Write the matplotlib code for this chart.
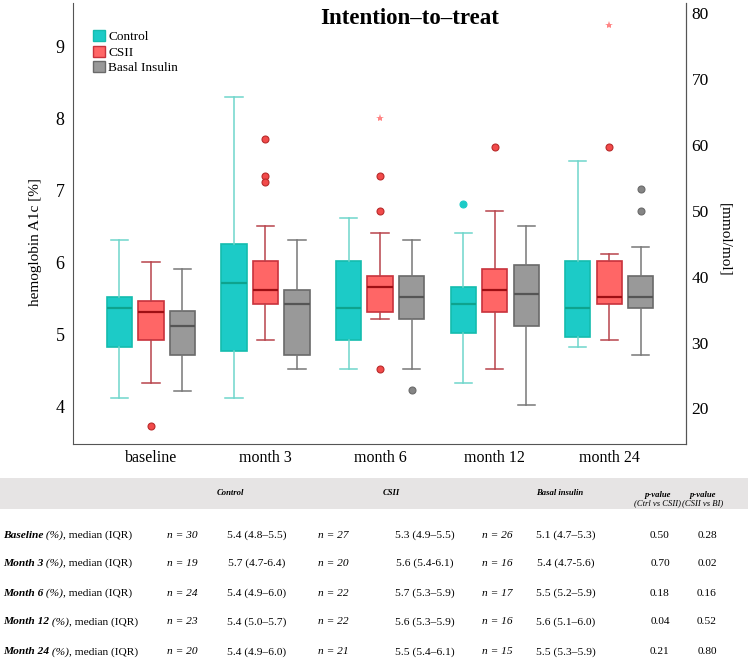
import matplotlib
matplotlib.use('Agg')
import matplotlib.pyplot as plt
import matplotlib.patches as patches
from matplotlib.patches import Patch

plt.rcParams['font.family'] = ['Liberation Serif', 'DejaVu Serif']

# ---------------- data ----------------
groups = ['baseline', 'month 3', 'month 6', 'month 12', 'month 24']

ctrl_med = [5.37, 5.72, 5.37, 5.43, 5.37]
ctrl_q1 = [4.83, 4.78, 4.93, 5.03, 4.97]
ctrl_q3 = [5.53, 6.27, 6.03, 5.67, 6.03]
ctrl_lo = [4.12, 4.12, 4.53, 4.33, 4.83]
ctrl_hi = [6.32, 8.31, 6.62, 6.42, 7.41]
ctrl_out = [[], [], [], [6.82], []]
ctrl_ext = [[], [], [], [], []]

csii_med = [5.32, 5.63, 5.67, 5.63, 5.53]
csii_q1 = [4.93, 5.43, 5.32, 5.32, 5.43]
csii_q3 = [5.47, 6.03, 5.82, 5.92, 6.03]
csii_lo = [4.33, 4.93, 5.22, 4.53, 4.93]
csii_hi = [6.01, 6.51, 6.42, 6.72, 6.12]
csii_out = [[3.74], [7.72, 7.21, 7.12], [7.21, 6.72, 4.53], [7.61], [7.61]]
csii_ext = [[], [], [8.01], [], [9.31]]

basal_med = [5.13, 5.43, 5.53, 5.57, 5.53]
basal_q1 = [4.72, 4.72, 5.22, 5.13, 5.37]
basal_q3 = [5.33, 5.63, 5.82, 5.97, 5.82]
basal_lo = [4.22, 4.53, 4.53, 4.03, 4.72]
basal_hi = [5.92, 6.32, 6.32, 6.51, 6.22]
basal_out = [[], [], [4.24], [], [7.03, 6.72]]
basal_ext = [[], [], [], [], []]

# table
row_names = ['Baseline', 'Month 3', 'Month 6', 'Month 12', 'Month 24']
n_ctrl = [30, 19, 24, 23, 20]
n_csii = [27, 20, 22, 22, 21]
n_basal = [26, 16, 17, 16, 15]
v_ctrl = ['5.4 (4.8–5.5)', '5.7 (4.7-6.4)', '5.4 (4.9–6.0)', '5.4 (5.0–5.7)', '5.4 (4.9–6.0)']
v_csii = ['5.3 (4.9–5.5)', '5.6 (5.4-6.1)', '5.7 (5.3–5.9)', '5.6 (5.3–5.9)', '5.5 (5.4–6.1)']
v_basal = ['5.1 (4.7–5.3)', '5.4 (4.7-5.6)', '5.5 (5.2–5.9)', '5.6 (5.1–6.0)', '5.5 (5.3–5.9)']
p_ctrl_csii = ['0.50', '0.70', '0.18', '0.04', '0.21']
p_csii_bi = ['0.28', '0.02', '0.16', '0.52', '0.80']

series = [
    ('Control', ctrl_med, ctrl_q1, ctrl_q3, ctrl_lo, ctrl_hi, ctrl_out, ctrl_ext,
     dict(face='#1ccbc7', edge='#14bcae', med='#0ea38e', whisk='#6fd6cb', dot='#1ccbc7', dotedge='#1ccbc7')),
    ('CSII', csii_med, csii_q1, csii_q3, csii_lo, csii_hi, csii_out, csii_ext,
     dict(face='#ff6666', edge='#c8323c', med='#9e0f14', whisk='#b8444c', dot='#f24a4a', dotedge='#b82a2a')),
    ('Basal Insulin', basal_med, basal_q1, basal_q3, basal_lo, basal_hi, basal_out, basal_ext,
     dict(face='#999999', edge='#6a6a6a', med='#555555', whisk='#787878', dot='#858585', dotedge='#6a6a6a')),
]

W, H = 750, 660
fig = plt.figure(figsize=(7.5, 6.6), dpi=100)
ax = fig.add_axes([73 / W, 1 - 444 / H, (686 - 73) / W, (444 - 3) / H])

offsets = [-0.275, 0.0, 0.275]
for k, (name, med, q1, q3, lo, hi, out, ext, c) in enumerate(series):
    stats = []
    for i in range(len(groups)):
        stats.append(dict(med=med[i], q1=q1[i], q3=q3[i], whislo=lo[i], whishi=hi[i], fliers=[]))
    pos = [i + offsets[k] for i in range(len(groups))]
    ax.bxp(stats, positions=pos, widths=0.22, capwidths=0.15, showfliers=False,
           patch_artist=True,
           boxprops=dict(facecolor=c['face'], edgecolor=c['edge'], linewidth=1.2),
           medianprops=dict(color=c['med'], linewidth=1.6),
           whiskerprops=dict(color=c['whisk'], linewidth=1.1),
           capprops=dict(color=c['whisk'], linewidth=1.1))
    for i in range(len(groups)):
        if out[i]:
            ax.plot([pos[i]] * len(out[i]), out[i], 'o', ms=5, mfc=c['dot'],
                    mec=c['dotedge'], mew=0.8, zorder=4)
        if ext[i]:
            ax.plot([pos[i]] * len(ext[i]), ext[i], '*', ms=6, color='#ff8585',
                    mew=0, zorder=4)

ax.set_xlim(-0.68, 4.67)
ax.set_ylim(3.486, 9.61)
ax.set_xticks(range(len(groups)))
ax.set_xticklabels(groups, fontsize=11.5)
ax.set_yticks([4, 5, 6, 7, 8, 9])
ax.tick_params(axis='y', length=0, labelsize=13, pad=6)
ax.tick_params(axis='x', length=0, pad=4)
for s in ['left', 'bottom', 'right']:
    ax.spines[s].set_color('#555555')
ax.spines['top'].set_visible(False)
ax.set_ylabel('hemoglobin A1c [%]', fontsize=11)
ax.yaxis.set_label_coords(-0.05, 0.458)

ax2 = ax.twinx()
lo_v, hi_v = ax.get_ylim()
ax2.set_ylim((lo_v - 2.15) * 10.929, (hi_v - 2.15) * 10.929)
ax2.set_yticks([20, 30, 40, 50, 60, 70, 80])
ax2.tick_params(axis='y', length=0, labelsize=12.5, pad=4)
ax2.spines['top'].set_visible(False)
ax2.spines['right'].set_color('#555555')
ax2.spines['left'].set_visible(False)
ax2.spines['bottom'].set_visible(False)
ax2.set_ylabel('[mmol/mol]', fontsize=11, rotation=270)
ax2.yaxis.set_label_coords(1.074, 0.463)

handles = [Patch(facecolor=s[8]['face'], edgecolor=s[8]['edge'], label=s[0]) for s in series]
ax.legend(handles=handles, loc='upper left', bbox_to_anchor=(0.033, 0.939), frameon=False,
          fontsize=9.5, handlelength=0.9, handleheight=0.9, handletextpad=0.25,
          labelspacing=0.2, borderaxespad=0, borderpad=0)

fig.text(410 / W, 1 - 18 / H, 'Intention–to–treat', fontsize=16.5, fontweight='bold',
         ha='center', va='center')

# ---------------- table ----------------
def fx(px):
    return px / W

def fy(py):
    return 1 - py / H

band = patches.Rectangle((0, fy(509)), fx(748), (509 - 478) / H, transform=fig.transFigure,
                         facecolor='#e6e4e4', edgecolor='none')
fig.add_artist(band)

hs = 6.2
fig.text(fx(230), fy(493), 'Control', fontsize=hs, style='italic', weight='bold', ha='center', va='center')
fig.text(fx(383), fy(493), 'CSII', fontsize=hs, style='italic', weight='bold', ha='left', va='center')
fig.text(fx(560), fy(493), 'Basal insulin', fontsize=hs, style='italic', weight='bold', ha='center', va='center')
for xc, sub in [(658, '(Ctrl vs CSII)'), (703, '(CSII vs BI)')]:
    fig.text(fx(xc), fy(495), 'p-value', fontsize=hs, style='italic', weight='bold', ha='center', va='center')
    fig.text(fx(xc), fy(503.5), sub, fontsize=hs, style='italic', ha='center', va='center')

renderer = fig.canvas.get_renderer()
ts = 8.2
row_y = [535, 563, 593, 622, 652]
for i, name in enumerate(row_names):
    y = fy(row_y[i])
    x = fx(3)
    for s, st, wt in [(name, 'italic', 'bold'), (' (%)', 'italic', 'normal'),
                      (', median (IQR)', 'normal', 'normal')]:
        t = fig.text(x, y, s, fontsize=ts, style=st, weight=wt, ha='left', va='center')
        x += t.get_window_extent(renderer).width / fig.bbox.width
    fig.text(fx(182), y, f'n = {n_ctrl[i]}', fontsize=ts, style='italic', ha='center', va='center')
    fig.text(fx(257), y, v_ctrl[i], fontsize=ts, ha='center', va='center')
    fig.text(fx(333), y, f'n = {n_csii[i]}', fontsize=ts, style='italic', ha='center', va='center')
    fig.text(fx(425), y, v_csii[i], fontsize=ts, ha='center', va='center')
    fig.text(fx(497), y, f'n = {n_basal[i]}', fontsize=ts, style='italic', ha='center', va='center')
    fig.text(fx(566), y, v_basal[i], fontsize=ts, ha='center', va='center')
    fig.text(fx(660), y, p_ctrl_csii[i], fontsize=ts, ha='center', va='center')
    fig.text(fx(707), y, p_csii_bi[i], fontsize=ts, ha='center', va='center')

fig.savefig('out.png', dpi=100)
